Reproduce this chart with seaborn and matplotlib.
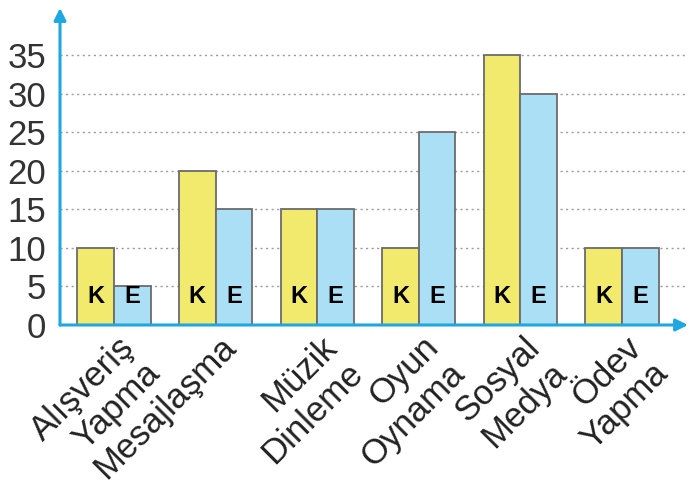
import pandas as pd
import matplotlib
matplotlib.use("Agg")
import matplotlib.pyplot as plt
import matplotlib.transforms as mtransforms
import seaborn as sns

# data
activities = ["Alışveriş\nYapma", "Mesajlaşma", "Müzik\nDinleme",
              "Oyun\nOynama", "Sosyal\nMedya", "Ödev\nYapma"]
girls = [10, 20, 15, 10, 35, 10]   # K
boys = [5, 15, 15, 25, 30, 10]     # E
groups = ["K", "E"]
yticks = [0, 5, 10, 15, 20, 25, 30, 35]

df = pd.DataFrame({
    "Etkinlik": activities * 2,
    "Cinsiyet": ["K"] * len(activities) + ["E"] * len(activities),
    "Değer": girls + boys,
})

axis_blue = "#1fa8e0"
yellow = "#f2ea6c"
light_blue = "#aadff5"

sns.set_style("white")
plt.rcParams["font.family"] = ["Liberation Sans", "DejaVu Sans"]

fig = plt.figure(figsize=(6.89, 4.92), dpi=100)
ax = fig.add_axes([60 / 689, 167 / 492, 628 / 689, 317 / 492])

sns.barplot(data=df, x="Etkinlik", y="Değer", hue="Cinsiyet", hue_order=groups,
            palette=[yellow, light_blue], width=0.72, gap=0, saturation=1,
            edgecolor="#6b6b6b", linewidth=1.3, legend=False, ax=ax, zorder=3)

ax.set_xlim(-0.531, 5.65)
ax.set_ylim(0, 41.1)

# dotted grid lines
for v in yticks[1:]:
    ax.axhline(v, color="#9a9a9a", linestyle=(0, (1.5, 2.5)), linewidth=1, zorder=1)

for s in ax.spines.values():
    s.set_visible(False)

# axes with arrow heads
ax.annotate("", xy=(0, 1.0), xytext=(0, 0), xycoords="axes fraction",
            arrowprops=dict(arrowstyle="-|>", color=axis_blue, lw=2.2,
                            mutation_scale=18, shrinkA=0, shrinkB=0), zorder=5)
ax.annotate("", xy=(1.0, 0), xytext=(0, 0), xycoords="axes fraction",
            arrowprops=dict(arrowstyle="-|>", color=axis_blue, lw=2.2,
                            mutation_scale=18, shrinkA=0, shrinkB=0), zorder=5)

ax.set_yticks(yticks)
ax.set_yticklabels([str(v) for v in yticks], fontsize=25, color="#333333")
ax.tick_params(axis="y", direction="inout", length=10, width=2, color=axis_blue, pad=5)

# K / E letters inside bars
for i in range(len(activities)):
    ax.text(i - 0.18, 3.75, "K", ha="center", va="center", fontsize=17,
            fontweight="bold", color="black", zorder=4)
    ax.text(i + 0.18, 3.75, "E", ha="center", va="center", fontsize=17,
            fontweight="bold", color="black", zorder=4)

ax.set_xticks(range(len(activities)))
ax.set_xticklabels(activities, fontsize=25, color="#222222", rotation=45,
                   ha="right", va="top", rotation_mode="anchor",
                   multialignment="right", linespacing=1.15)
ax.tick_params(axis="x", length=0, pad=4)
offset = mtransforms.ScaledTranslation(3 / 100, 0, fig.dpi_scale_trans)
for lbl in ax.get_xticklabels():
    lbl.set_transform(lbl.get_transform() + offset)

ax.set_xlabel("")
ax.set_ylabel("")

fig.savefig("out.png", dpi=100)
